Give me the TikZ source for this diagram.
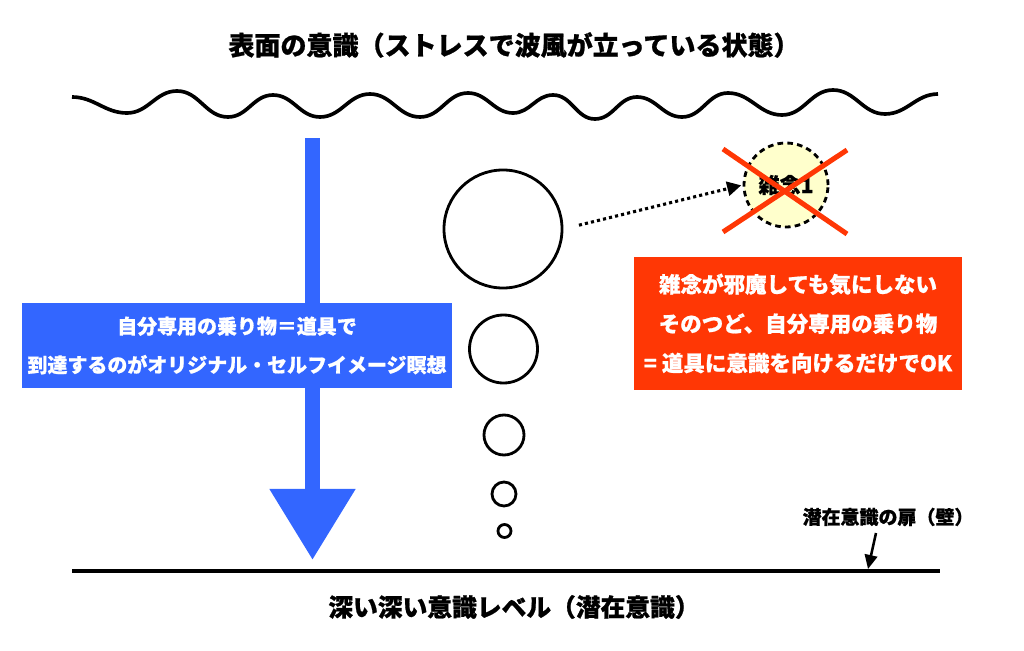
\documentclass[tikz,border=0pt]{standalone}
\usepackage{fontspec}
\setmainfont{Noto Sans CJK JP}[BoldFeatures={FakeBold=0.8}]
\usetikzlibrary{arrows.meta,calc}

\definecolor{mindblue}{RGB}{51,102,255}
\definecolor{noisered}{RGB}{255,55,5}
\definecolor{noiseyel}{RGB}{255,255,204}

\begin{document}
\begin{tikzpicture}[
  x=0.025cm, y=-0.025cm,
  titlelbl/.style = {inner sep=0pt, font=\fontsize{18.5}{22}\selectfont\bfseries},
  doorlbl/.style  = {inner sep=0pt, font=\fontsize{13.5}{16}\selectfont\bfseries},
  infobox/.style  = {rectangle, align=center, text=white, inner sep=0pt,
                     font=\fontsize{15.3}{28}\selectfont\bfseries},
  bubble/.style   = {circle, draw=black, line width=2pt, inner sep=0pt},
  noisenode/.style= {circle, draw=black, line width=2pt,
                     dash pattern=on 4pt off 3pt, fill=noiseyel,
                     inner sep=0pt, minimum size=2.1cm,
                     font=\fontsize{15}{18}\selectfont\bfseries},
  wave/.style     = {line width=2.6pt, black},
  bigarr/.style   = {-{Triangle[length=1.775cm,width=2.05cm]},
                     line width=0.375cm, mindblue},
  dotarr/.style   = {-{Triangle[length=10pt,width=10pt]}, line width=2.2pt,
                     dash pattern=on 2.2pt off 2.2pt},
  arr/.style      = {-{Triangle[length=10pt,width=9pt]}, line width=1.8pt},
  cross/.style    = {line width=3.6pt, noisered},
]
\useasboundingbox (0,0) rectangle (1024,650);

%%═══════════════════════════════════════════════════════════
%% Surface — waves
%%═══════════════════════════════════════════════════════════

\node[titlelbl] (surface) at (514,45)
  {表面の意識（ストレスで波風が立っている状態）};

\draw[wave] (72,97) \foreach \wx/\wy in {127/113, 177/91, 228/117, 273/95,
    320/117, 370/94, 420/117, 468/93, 513/113, 553/95, 595/119, 637/97,
    682/117, 728/93, 782/115, 833/90, 885/114, 938/94}
  { to[out=0,in=180] (\wx,\wy) };

%%═══════════════════════════════════════════════════════════
%% Descent — arrow and vehicle box
%%═══════════════════════════════════════════════════════════

\coordinate (dtop) at (312.5,138);
\coordinate (dtip) at (312.5,560);
\draw[bigarr] (dtop) -- (dtip);

\node[infobox, fill=mindblue, minimum width=10.75cm, minimum height=2.125cm,
      font=\fontsize{14.2}{27.5}\selectfont\bfseries] (ride) at (237,345.5)
  {自分専用の乗り物＝道具で\\
   到達するのがオリジナル・セルフイメージ瞑想};

%%═══════════════════════════════════════════════════════════
%% Bubbles and stray thought
%%═══════════════════════════════════════════════════════════

\node[bubble, minimum size=2.95cm]  (b1) at (503,229) {};
\node[bubble, minimum size=1.7cm]   (b2) at (503.5,349) {};
\node[bubble, minimum size=1.0cm]   (b3) at (504,435) {};
\node[bubble, minimum size=0.6cm]   (b4) at (504,494) {};
\node[bubble, minimum size=0.325cm] (b5) at (504.5,531) {};

\node[noisenode] (noise) at (786,185) {雑念1};
\draw[dotarr, shorten <=0.4cm, shorten >=1pt] (b1.east) -- (noise.west);

\draw[cross] (723,149) -- (847,234);
\draw[cross] (723,232) -- (847,150);

\node[infobox, fill=noisered, minimum width=8.2cm, minimum height=3.325cm]
  (calm) at (798,323.5)
  {雑念が邪魔しても気にしない\\
   そのつど、自分専用の乗り物\\
   = 道具に意識を向けるだけでOK};

%%═══════════════════════════════════════════════════════════
%% Deep level — door of the subconscious
%%═══════════════════════════════════════════════════════════

\coordinate (lvlL) at (72,571);
\coordinate (lvlR) at (940,571);
\draw[line width=2.2pt] (lvlL) -- (lvlR);

\node[doorlbl] (door) at (888,517) {潜在意識の扉（壁）};
\coordinate (dooraim) at (876,533);
\coordinate (doorpt)  at (868,569);
\draw[arr] (dooraim) -- (doorpt);

\node[titlelbl, font=\fontsize{17.6}{21}\selectfont\bfseries] (deep)
  at (514,607) {深い深い意識レベル（潜在意識）};

\end{tikzpicture}
\end{document}
